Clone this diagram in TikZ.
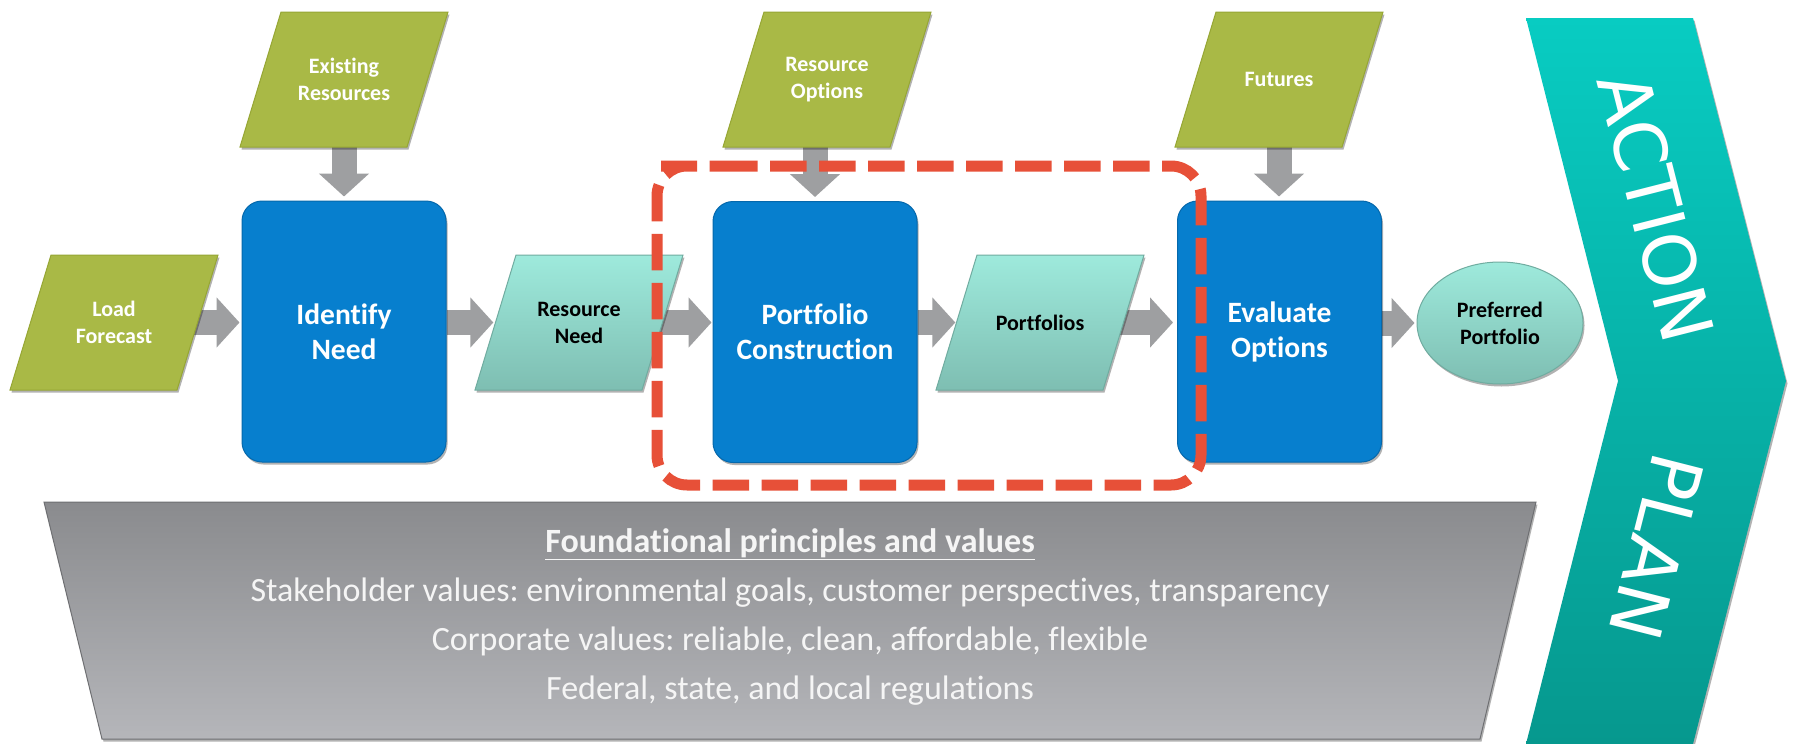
\documentclass[tikz,border=0pt]{standalone}
\usepackage{fontspec}
\setmainfont{Carlito}[Ligatures=NoCommon]
\newfontfamily\bannerfont{DejaVu Sans}
\usetikzlibrary{arrows.meta,shapes.geometric,shadows,calc}
\frenchspacing

\definecolor{oliveFill}{RGB}{169,185,70}
\definecolor{oliveEdge}{RGB}{150,166,52}
\definecolor{tealTop}{RGB}{158,234,220}
\definecolor{tealBot}{RGB}{126,190,178}
\definecolor{tealEdge}{RGB}{112,172,160}
\definecolor{procBlue}{RGB}{7,127,206}
\definecolor{procEdge}{RGB}{5,104,172}
\definecolor{arrowGray}{RGB}{158,159,161}
\definecolor{baseTop}{RGB}{138,139,142}
\definecolor{baseBot}{RGB}{181,182,186}
\definecolor{chevTop}{RGB}{8,204,194}
\definecolor{chevBot}{RGB}{6,152,142}
\definecolor{focusRed}{RGB}{231,80,56}

\pgfdeclarelayer{back}
\pgfsetlayers{back,main}

\tikzset{
  softshadow/.style={drop shadow={shadow xshift=1.5pt, shadow yshift=-2.5pt, opacity=.3, fill=black}},
  inputshape/.style={fill=oliveFill, draw=oliveEdge, line width=1pt, softshadow},
  datashape/.style={top color=tealTop, bottom color=tealBot, draw=tealEdge, line width=1pt, softshadow},
  paralabel/.style={minimum width=167pt, minimum height=135pt, inner sep=0pt, align=center,
    font=\fontsize{22}{27}\selectfont\bfseries},
  procbox/.style={rectangle, rounded corners=20pt, fill=procBlue, draw=procEdge, line width=1pt,
    minimum width=204pt, minimum height=261pt, align=center, text=white,
    font=\fontsize{29.5}{35}\selectfont\bfseries, softshadow},
  flow/.style={line width=25pt, arrowGray, -{Triangle[width=49pt,length=23pt]}},
  focusframe/.style={draw=focusRed, line width=11pt, dash pattern=on 36.5pt off 12.5pt, rounded corners=30pt},
  bannertext/.style={text=white, font=\fontsize{72}{80}\selectfont\bannerfont, inner sep=0pt},
}

% parallelogram: name, centre x, centre y, style, text colour, text
\newcommand\flowdata[6]{%
  \path[#4] (#2-63,#3-67.5) -- (#2+104,#3-67.5) -- (#2+63,#3+67.5) -- (#2-104,#3+67.5) -- cycle;
  \node[paralabel, text=#5] (#1) at (#2,#3) {#6};}

\begin{document}
\begin{tikzpicture}[x=1pt, y=-1pt]
\useasboundingbox (0,0) rectangle (1794,744);
\begin{pgfonlayer}{back}
\fill[white] (0,0) rectangle (1794,744);
\end{pgfonlayer}

% action plan chevron
\path[top color=chevTop, bottom color=chevBot, softshadow]
  (1526,18) -- (1693,18) -- (1786,381) -- (1693,744) -- (1526,744) -- (1618,381) -- cycle;
\node[bannertext, rotate=-75.7] (act) at (1656,207) {ACTION};
\node[bannertext, rotate=-104.3] (pln) at (1657,547) {PLAN};

% foundation
\path[top color=baseTop, bottom color=baseBot, draw=baseTop!80!black, line width=1pt, softshadow]
  (44,502) -- (1536,502) -- (1480,739) -- (102,739) -- cycle;
\node[align=center, text=white!96!black, font=\fontsize{34}{49}\selectfont] (fnd) at (790,617)
  {\textbf{\underline{Foundational principles and values}}\\
   Stakeholder values: environmental goals, customer perspectives, transparency\\
   Corporate values: reliable, clean, affordable, flexible\\
   Federal, state, and local regulations};

% inputs and data
\flowdata{lf}{114}{322.5}{inputshape}{white}{Load\\Forecast}
\flowdata{er}{344}{79.5}{inputshape}{white}{Existing\\Resources}
\flowdata{rn}{579}{322.5}{datashape}{black}{Resource\\Need}
\flowdata{ro}{827}{79.5}{inputshape}{white}{Resource\\Options}
\flowdata{pf}{1040}{322.5}{datashape}{black}{Portfolios}
\flowdata{fu}{1279}{79.5}{inputshape}{white}{Futures}

% process steps
\node[procbox] (idn) at (344,331.5) {Identify\\Need};
\node[procbox] (pc) at (815,332) {Portfolio\\Construction};
\node[procbox] (ev) at (1279.5,331.5) {Evaluate\\Options};

% result
\node[ellipse, minimum width=166pt, minimum height=122pt, inner sep=0pt, top color=tealTop,
  bottom color=tealBot, draw=tealEdge, line width=1pt, align=center, softshadow,
  font=\fontsize{22}{27}\selectfont\bfseries] (pp) at (1500,323) {Preferred\\Portfolio};

% connectors
\begin{pgfonlayer}{back}
\draw[flow, shorten >=2pt] (lf.center) -- (lf.center -| idn.west);
\draw[flow, shorten >=4pt] (er.center) -- (er.center |- idn.north);
\draw[flow, shorten >=2pt] (idn.east |- rn.center) -- (rn.west);
\draw[flow, shorten >=4pt] (pc.north |- ro.center) -- (pc.north);
\draw[flow, shorten >=1pt] (rn.center) -- (rn.center -| pc.west);
\draw[flow, shorten >=1pt] (pc.east |- pf.center) -- (pf.west);
\draw[flow, shorten >=4pt] (pf.center) -- (pf.center -| ev.west);
\draw[flow, shorten >=4pt] (fu.center) -- (fu.center |- ev.north);
\draw[flow, shorten >=2pt] (ev.east |- pp.center) -- (pp.west);
\end{pgfonlayer}

% focus frame
\draw[focusframe] (691,166) -- (1201,166) -- (1201,485) -- (657,485) -- (657,166) -- cycle;
\end{tikzpicture}
\end{document}
